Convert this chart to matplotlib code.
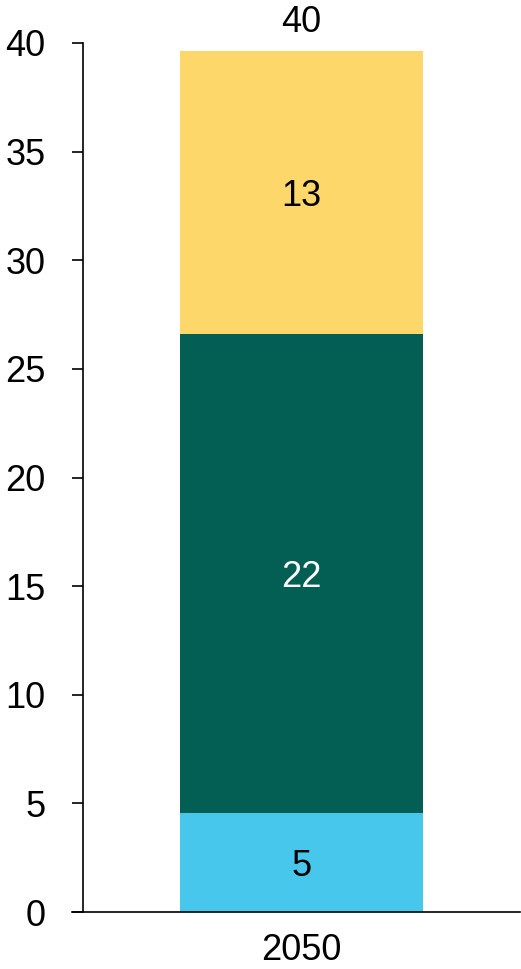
import numpy as np
import matplotlib
matplotlib.use("Agg")
import matplotlib.pyplot as plt

# values
categories = ["2050"]
seg_bottom = [4.56]
seg_middle = [22.05]
seg_top = [13.02]
labels_bottom = ["5"]
labels_middle = ["22"]
labels_top = ["13"]
total_labels = ["40"]

col_bottom = "#48C7EC"
col_middle = "#035E54"
col_top = "#FDD76A"

plt.rcParams['font.family'] = ['Liberation Sans', 'DejaVu Sans']

fig = plt.figure(figsize=(5.21, 9.69), dpi=100)
ax = fig.add_axes([83/521, 57/969, 437/521, 869/969])

x = np.arange(len(categories))
w = 0.558
b1 = np.array(seg_bottom)
b2 = np.array(seg_middle)
b3 = np.array(seg_top)
ax.bar(x, b1, w, color=col_bottom)
ax.bar(x, b2, w, bottom=b1, color=col_middle)
ax.bar(x, b3, w, bottom=b1 + b2, color=col_top)

fs = 26
for i in range(len(categories)):
    ax.text(x[i], b1[i] / 2, labels_bottom[i], ha='center', va='center_baseline', fontsize=fs, color='black')
    ax.text(x[i], b1[i] + b2[i] / 2, labels_middle[i], ha='center', va='center_baseline', fontsize=fs, color='white')
    ax.text(x[i], b1[i] + b2[i] + b3[i] / 2, labels_top[i], ha='center', va='center_baseline', fontsize=fs, color='black')
    ax.annotate(total_labels[i], (x[i], b1[i] + b2[i] + b3[i]), xytext=(0, 8),
                textcoords='offset points', ha='center', va='bottom', fontsize=fs,
                annotation_clip=False)

ax.set_xlim(-0.5, 0.5)
ax.set_ylim(0, 40)
ax.set_yticks(np.arange(0, 41, 5))
ax.set_xticks(x)
ax.set_xticklabels(categories)
ax.spines['top'].set_visible(False)
ax.spines['right'].set_visible(False)
ax.spines['left'].set_linewidth(1.2)
ax.spines['bottom'].set_linewidth(1.2)
ax.spines['bottom'].set_bounds(-0.5 - 11/437, 0.5)
ax.tick_params(axis='y', length=8, width=1.2, pad=19, labelsize=fs)
ax.tick_params(axis='x', length=0, pad=15, labelsize=fs)

fig.savefig("out.png", dpi=100)
